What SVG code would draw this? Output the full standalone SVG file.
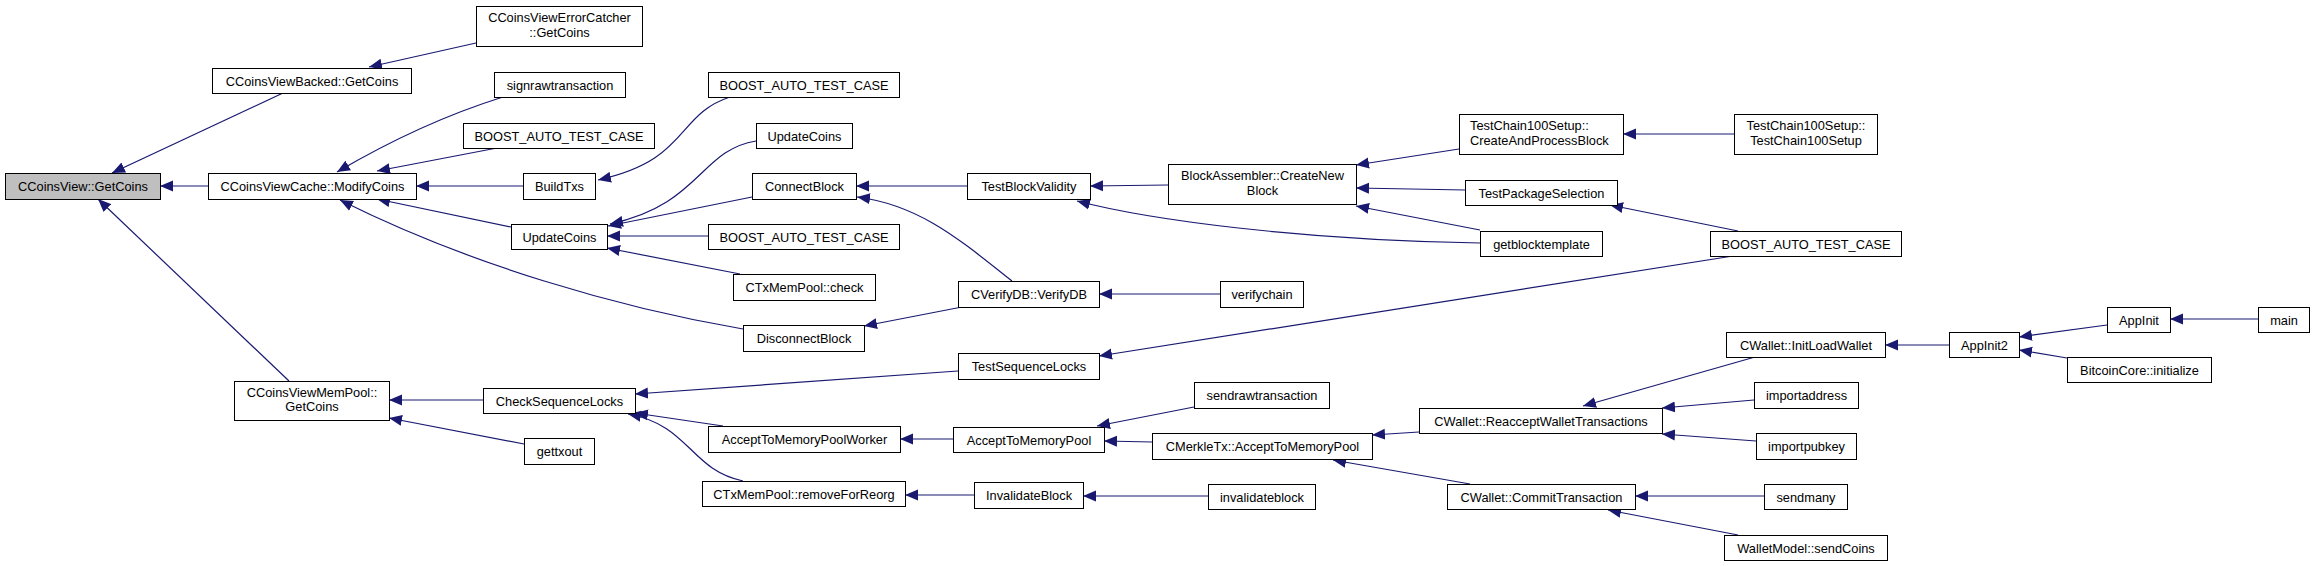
<svg xmlns="http://www.w3.org/2000/svg" width="2315" height="566" viewBox="0 0 2315 566">
<style>
.n rect{fill:#fff;stroke:#000;stroke-width:1}
.n.root rect{fill:#bfbfbf}
.n text{font-family:"Liberation Sans",Arial,sans-serif;font-size:12.8px;fill:#000;text-anchor:middle}
.e path{fill:none;stroke:#191970;stroke-width:1.2;marker-end:url(#arr)}
</style>
<defs>
<marker id="arr" markerUnits="userSpaceOnUse" markerWidth="14" markerHeight="12" viewBox="0 -6 14 12" refX="13" refY="0" orient="auto"><path d="M0,-5.5 L13,0 L0,5.5 z" fill="#191970"/></marker>
</defs>
<rect width="2315" height="566" fill="#fff"/>
<g id="edges" class="e">
<path d="M283,93 L112,173"/>
<path d="M208,186 L160,186"/>
<path d="M289,381 L98,199"/>
<path d="M476,43 L369,67"/>
<path d="M503,97 C455,112 400,135 337,172"/>
<path d="M497,148 L377,171"/>
<path d="M523,186 L416,186"/>
<path d="M511,227 L377,199"/>
<path d="M743,329 C620,308 470,265 340,200"/>
<path d="M730,97 C675,115 690,160 598,180"/>
<path d="M756,141 C700,150 700,205 610,224"/>
<path d="M752,197 L608,226"/>
<path d="M708,236 L607,236"/>
<path d="M740,274 L607,248"/>
<path d="M967,186 L856,186"/>
<path d="M1012,281 C960,240 920,205 857,197"/>
<path d="M962,307 L864,326"/>
<path d="M1168,185 L1090,186"/>
<path d="M1480,243 C1300,240 1150,220 1077,201"/>
<path d="M1459,149 L1356,165"/>
<path d="M1465,190 L1356,188"/>
<path d="M1480,230 L1356,206"/>
<path d="M1734,134 L1623,134"/>
<path d="M1738,231 L1610,205"/>
<path d="M1733,256 L1099,356"/>
<path d="M958,371 L635,394"/>
<path d="M723,426 L635,413"/>
<path d="M743,481 C690,470 690,425 628,414"/>
<path d="M483,400 L389,400"/>
<path d="M524,444 L389,418"/>
<path d="M953,439 L900,439"/>
<path d="M1194,407 L1097,426"/>
<path d="M1152,442 L1104,441"/>
<path d="M974,495 L905,495"/>
<path d="M1208,496 L1083,496"/>
<path d="M1220,294 L1099,294"/>
<path d="M1419,432 L1372,435"/>
<path d="M1470,484 L1333,460"/>
<path d="M1755,357 L1583,406"/>
<path d="M1754,400 L1662,408"/>
<path d="M1756,441 L1662,434"/>
<path d="M1764,496 L1635,496"/>
<path d="M1738,535 L1608,510"/>
<path d="M1949,345 L1885,345"/>
<path d="M2107,325 L2019,337"/>
<path d="M2067,358 L2019,350"/>
<path d="M2258,319 L2170,319"/>
</g>
<g id="n0" class="n root"><rect x="5.5" y="173.5" width="155" height="26"/><text x="83" y="191">CCoinsView::GetCoins</text></g>
<g id="n1" class="n"><rect x="212.5" y="68.5" width="199" height="25"/><text x="312" y="85.5">CCoinsViewBacked::GetCoins</text></g>
<g id="n2" class="n"><rect x="208.5" y="173.5" width="208" height="26"/><text x="312.5" y="191">CCoinsViewCache::ModifyCoins</text></g>
<g id="n3" class="n"><rect x="234.5" y="381.5" width="155" height="39"/><text x="312" y="397">CCoinsViewMemPool::</text><text x="312" y="411">GetCoins</text></g>
<g id="n4" class="n"><rect x="476.5" y="6.5" width="166" height="40"/><text x="559.5" y="22">CCoinsViewErrorCatcher</text><text x="559.5" y="37">::GetCoins</text></g>
<g id="n5" class="n"><rect x="494.5" y="72.5" width="131" height="25"/><text x="560" y="89.5">signrawtransaction</text></g>
<g id="n6" class="n"><rect x="463.5" y="123.5" width="191" height="25"/><text x="559" y="140.5">BOOST_AUTO_TEST_CASE</text></g>
<g id="n7" class="n"><rect x="523.5" y="173.5" width="72" height="26"/><text x="559.5" y="191">BuildTxs</text></g>
<g id="n8" class="n"><rect x="511.5" y="224.5" width="96" height="25"/><text x="559.5" y="241.5">UpdateCoins</text></g>
<g id="n9" class="n"><rect x="743.5" y="325.5" width="121" height="26"/><text x="804" y="343">DisconnectBlock</text></g>
<g id="n10" class="n"><rect x="483.5" y="388.5" width="152" height="25"/><text x="559.5" y="405.5">CheckSequenceLocks</text></g>
<g id="n11" class="n"><rect x="524.5" y="438.5" width="70" height="26"/><text x="559.5" y="456">gettxout</text></g>
<g id="n12" class="n"><rect x="708.5" y="72.5" width="191" height="25"/><text x="804" y="89.5">BOOST_AUTO_TEST_CASE</text></g>
<g id="n13" class="n"><rect x="756.5" y="123.5" width="96" height="25"/><text x="804.5" y="140.5">UpdateCoins</text></g>
<g id="n14" class="n"><rect x="752.5" y="173.5" width="104" height="26"/><text x="804.5" y="191">ConnectBlock</text></g>
<g id="n15" class="n"><rect x="708.5" y="224.5" width="191" height="25"/><text x="804" y="241.5">BOOST_AUTO_TEST_CASE</text></g>
<g id="n16" class="n"><rect x="733.5" y="274.5" width="142" height="26"/><text x="804.5" y="292">CTxMemPool::check</text></g>
<g id="n17" class="n"><rect x="708.5" y="426.5" width="192" height="26"/><text x="804.5" y="444">AcceptToMemoryPoolWorker</text></g>
<g id="n18" class="n"><rect x="702.5" y="481.5" width="203" height="25"/><text x="804" y="498.5">CTxMemPool::removeForReorg</text></g>
<g id="n19" class="n"><rect x="967.5" y="173.5" width="123" height="26"/><text x="1029" y="191">TestBlockValidity</text></g>
<g id="n20" class="n"><rect x="958.5" y="281.5" width="141" height="26"/><text x="1029" y="299">CVerifyDB::VerifyDB</text></g>
<g id="n21" class="n"><rect x="958.5" y="353.5" width="141" height="26"/><text x="1029" y="371">TestSequenceLocks</text></g>
<g id="n22" class="n"><rect x="953.5" y="427.5" width="151" height="25"/><text x="1029" y="444.5">AcceptToMemoryPool</text></g>
<g id="n23" class="n"><rect x="974.5" y="482.5" width="109" height="26"/><text x="1029" y="500">InvalidateBlock</text></g>
<g id="n24" class="n"><rect x="1168.5" y="164.5" width="188" height="40"/><text x="1262.5" y="180">BlockAssembler::CreateNew</text><text x="1262.5" y="195">Block</text></g>
<g id="n25" class="n"><rect x="1220.5" y="281.5" width="83" height="26"/><text x="1262" y="299">verifychain</text></g>
<g id="n26" class="n"><rect x="1194.5" y="382.5" width="135" height="26"/><text x="1262" y="400">sendrawtransaction</text></g>
<g id="n27" class="n"><rect x="1152.5" y="433.5" width="220" height="26"/><text x="1262.5" y="451">CMerkleTx::AcceptToMemoryPool</text></g>
<g id="n28" class="n"><rect x="1208.5" y="484.5" width="107" height="25"/><text x="1262" y="501.5">invalidateblock</text></g>
<g id="n29" class="n"><rect x="1459.5" y="114.5" width="164" height="40"/><text x="1470" y="130" style="text-anchor:start">TestChain100Setup::</text><text x="1470" y="145" style="text-anchor:start">CreateAndProcessBlock</text></g>
<g id="n30" class="n"><rect x="1465.5" y="180.5" width="152" height="25"/><text x="1541.5" y="197.5">TestPackageSelection</text></g>
<g id="n31" class="n"><rect x="1480.5" y="231.5" width="122" height="25"/><text x="1541.5" y="248.5">getblocktemplate</text></g>
<g id="n32" class="n"><rect x="1419.5" y="408.5" width="243" height="25"/><text x="1541" y="425.5">CWallet::ReacceptWalletTransactions</text></g>
<g id="n33" class="n"><rect x="1447.5" y="484.5" width="188" height="25"/><text x="1541.5" y="501.5">CWallet::CommitTransaction</text></g>
<g id="n34" class="n"><rect x="1734.5" y="114.5" width="143" height="40"/><text x="1806" y="130">TestChain100Setup::</text><text x="1806" y="145">TestChain100Setup</text></g>
<g id="n35" class="n"><rect x="1710.5" y="231.5" width="191" height="25"/><text x="1806" y="248.5">BOOST_AUTO_TEST_CASE</text></g>
<g id="n36" class="n"><rect x="1726.5" y="332.5" width="159" height="25"/><text x="1806" y="349.5">CWallet::InitLoadWallet</text></g>
<g id="n37" class="n"><rect x="1754.5" y="382.5" width="104" height="26"/><text x="1806.5" y="400">importaddress</text></g>
<g id="n38" class="n"><rect x="1756.5" y="433.5" width="100" height="26"/><text x="1806.5" y="451">importpubkey</text></g>
<g id="n39" class="n"><rect x="1764.5" y="484.5" width="83" height="25"/><text x="1806" y="501.5">sendmany</text></g>
<g id="n40" class="n"><rect x="1724.5" y="535.5" width="163" height="25"/><text x="1806" y="552.5">WalletModel::sendCoins</text></g>
<g id="n41" class="n"><rect x="1949.5" y="332.5" width="70" height="25"/><text x="1984.5" y="349.5">AppInit2</text></g>
<g id="n42" class="n"><rect x="2107.5" y="307.5" width="63" height="25"/><text x="2139" y="324.5">AppInit</text></g>
<g id="n43" class="n"><rect x="2067.5" y="357.5" width="144" height="25"/><text x="2139.5" y="374.5">BitcoinCore::initialize</text></g>
<g id="n44" class="n"><rect x="2258.5" y="307.5" width="51" height="25"/><text x="2284" y="324.5">main</text></g>
</svg>
